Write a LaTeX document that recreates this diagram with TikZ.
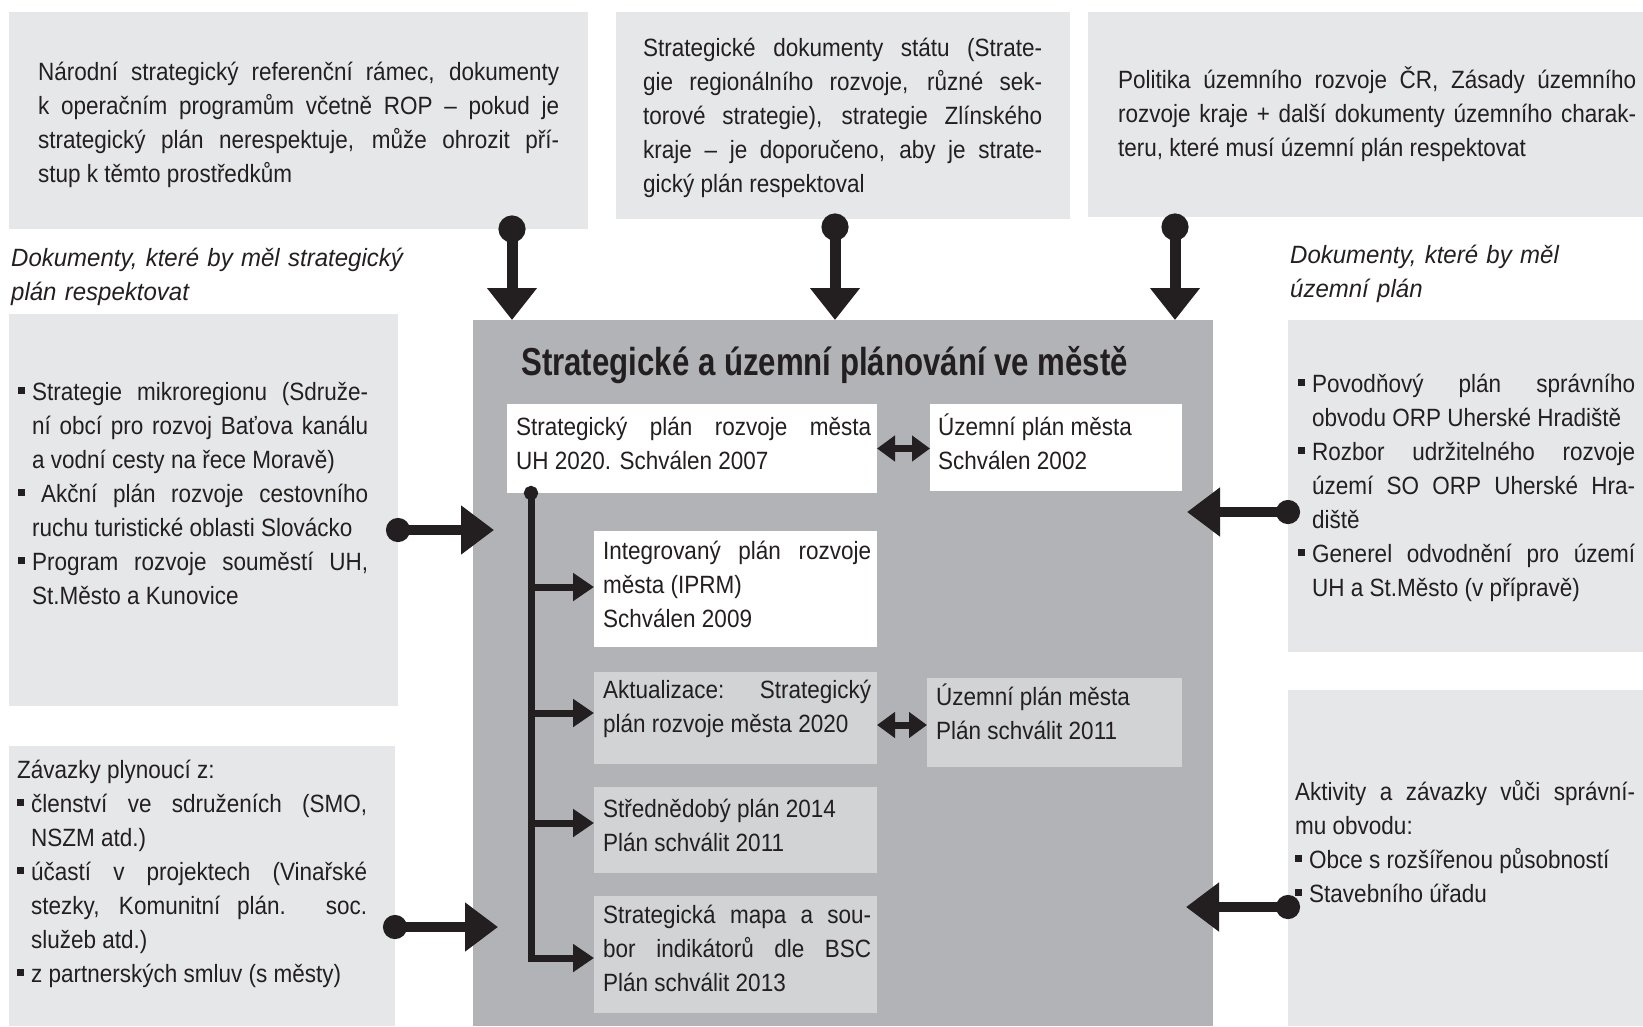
\documentclass[tikz,border=0pt]{standalone}
\usepackage{fontspec}
\setmainfont[FakeStretch=0.9]{Liberation Sans}
\newfontfamily\titlefont[FakeStretch=0.8]{Liberation Sans}
\newfontfamily\notefont[FakeStretch=0.96]{Liberation Sans}
\usetikzlibrary{arrows.meta}
\usetikzlibrary{calc}
\definecolor{ink}{HTML}{231F20}
\definecolor{paleg}{HTML}{E6E7E8}
\definecolor{midg}{HTML}{B1B3B6}
\definecolor{lightg}{HTML}{D1D3D4}
\hyphenpenalty=10000
\newcommand{\panel}[6]{ \node[#1, minimum width={#5-#3}, minimum height={#6-#4}] (#2) at (#3,#4) {};}
\newcommand{\bul}{\hangindent=14pt\hangafter=1\makebox[14pt][l]{\rule[6pt]{7pt}{7pt}}}
\tikzset{
  box/.style={anchor=north west, inner sep=0pt, outer sep=0pt},
  outerbox/.style={box, fill=paleg},
  citybox/.style={box, fill=midg},
  whitebox/.style={box, fill=white},
  greybox/.style={box, fill=lightg},
  txt/.style={anchor=base west, inner sep=0pt, text=ink, align=justify,
    font=\fontsize{25}{34}\selectfont},
  note/.style={anchor=base west, inner sep=0pt, text=ink, align=left, text width=430,
    font=\notefont\itshape\fontsize{25}{34}\selectfont},
  titletxt/.style={anchor=base west, inner sep=0pt, text=ink,
    font=\titlefont\bfseries\fontsize{39}{44}\selectfont},
  bigarr/.style={draw=ink, line width=11pt, {Circle[length=27pt]}-{Triangle[length=32pt, width=48pt]}, shorten <=-13.5pt},
  sidearr/.style={draw=ink, line width=10pt, {Circle[length=24pt]}-{Triangle[length=33pt, width=47pt]}, shorten <=-12pt},
  trunkline/.style={draw=ink, line width=7pt, {Circle[length=14pt]}-{Triangle[length=21pt, width=27pt]}, shorten <=-7pt},
  branch/.style={draw=ink, line width=7pt, -{Triangle[length=21pt, width=27pt]}},
  dblarr/.style={draw=ink, line width=7pt, {Triangle[length=18pt, width=25pt]}-{Triangle[length=18pt, width=25pt]}}
}
\begin{document}
\begin{tikzpicture}[x=1pt, y=-1pt]
        \useasboundingbox (0,0) rectangle (1643,1026);
        % outer panels
        \panel{outerbox}{natl}{9}{12}{588}{229}
        \panel{outerbox}{stat}{616}{12}{1070}{219}
        \panel{outerbox}{terr}{1088}{12}{1643}{217}
        \panel{outerbox}{lmid}{9}{314}{398}{706}
        \panel{outerbox}{lbot}{9}{746}{395}{1026}
        \panel{outerbox}{rmid}{1288}{320}{1643}{652}
        \panel{outerbox}{rbot}{1288}{690}{1643}{1026}
        % city block
        \panel{citybox}{city}{473}{320}{1213}{1026}
        \panel{whitebox}{spl}{507}{404}{877}{493}
        \panel{whitebox}{upl}{930}{404}{1182}{491}
        \panel{whitebox}{ipr}{594}{531}{877}{647}
        \panel{greybox}{akt}{594}{672}{877}{764}
        \panel{greybox}{upln}{927}{678}{1182}{767}
        \panel{greybox}{sdp}{594}{787}{877}{873}
        \panel{greybox}{bsc}{594}{896}{877}{1013}
        % top texts
        \node[txt, text width=521] (natltxt) at (38,80) {Národní strategický referenční rámec, dokumenty\linebreak k operačním programům včetně ROP -- pokud je\linebreak strategický plán nerespektuje, může ohrozit pří-\linebreak stup k těmto prostředkům\par};
        \node[txt, text width=399] (stattxt) at (643,56) {Strategické dokumenty státu (Strate-\linebreak gie regionálního rozvoje, různé sek-\linebreak torové strategie), strategie Zlínského\linebreak kraje -- je doporučeno, aby je strate-\linebreak gický plán respektoval\par};
        \node[txt, text width=518] (terrtxt) at (1118,88) {Politika územního rozvoje ČR, Zásady územního\linebreak rozvoje kraje + další dokumenty územního charak-\linebreak teru, které musí územní plán respektovat\par};
        \node[note] (lnote) at (11,266) {Dokumenty, které by měl strategický\\ plán respektovat};
        \node[note] (rnote) at (1290,263) {Dokumenty, které by měl\\ územní plán};
        % side texts
        \node[txt, text width=350] (lmidtxt) at (18,400) {\bul Strategie mikroregionu (Sdruže-\linebreak ní obcí pro rozvoj Baťova kanálu\linebreak a vodní cesty na řece Moravě)\par
          \bul\hspace{9pt}Akční plán rozvoje cestovního\linebreak ruchu turistické oblasti Slovácko\par
          \bul Program rozvoje souměstí UH,\linebreak St.Město a Kunovice\par};
        \node[txt, text width=350] (lbottxt) at (17,778) {Závazky plynoucí z:\par
          \bul členství ve sdruženích (SMO,\linebreak NSZM atd.)\par
          \bul účastí v projektech (Vinařské\linebreak stezky, Komunitní plán. soc.\linebreak služeb atd.)\par
          \bul z partnerských smluv (s městy)\par};
        \node[txt, text width=337] (rmidtxt) at (1298,392) {\bul Povodňový plán správního\linebreak obvodu ORP Uherské Hradiště\par
          \bul Rozbor udržitelného rozvoje\linebreak území SO ORP Uherské Hra-\linebreak diště\par
          \bul Generel odvodnění pro území\linebreak UH a St.Město (v přípravě)\par};
        \node[txt, text width=340] (rbottxt) at (1295,800) {Aktivity a závazky vůči správní-\linebreak mu obvodu:\par
          \bul Obce s rozšířenou působností\par
          \bul Stavebního úřadu\par};
        % city texts
        \node[titletxt] (title) at (521,375) {Strategické a územní plánování ve městě};
        \node[txt, text width=355] (spltxt) at (516,435) {Strategický plán rozvoje města\linebreak UH 2020. Schválen 2007\par};
        \node[txt, text width=230] (upltxt) at (938,435) {Územní plán města\\ Schválen 2002};
        \node[txt, text width=268] (iprtxt) at (603,559) {Integrovaný plán rozvoje\linebreak města (IPRM)\\ Schválen 2009};
        \node[txt, text width=268] (akttxt) at (603,698) {Aktualizace: Strategický\linebreak plán rozvoje města 2020\par};
        \node[txt, text width=230] (uplntxt) at (936,705) {Územní plán města\\ Plán schválit 2011};
        \node[txt, text width=268] (sdptxt) at (603,817) {Střednědobý plán 2014\\ Plán schválit 2011};
        \node[txt, text width=268] (bsctxt) at (603,923) {Strategická mapa a sou-\linebreak bor indikátorů dle BSC\linebreak Plán schválit 2013\par};
        % feeds from above
        \draw[bigarr] (natl.south -| 512,0) -- (city.north -| 512,0);
        \draw[bigarr] ($(stat.south -| 835,0)+(0,8)$) -- (city.north -| 835,0);
        \draw[bigarr] ($(terr.south -| 1175,0)+(0,10)$) -- (city.north -| 1175,0);
        % feeds from the sides
        \draw[sidearr, shorten >=-21pt] (lmid.east |- 0,530) -- (city.west |- 0,530);
        \draw[sidearr, shorten >=-25pt] (lbot.east |- 0,927) -- (city.west |- 0,927);
        \draw[sidearr, shorten >=-26pt] (rmid.west |- 0,512) -- (city.east |- 0,512);
        \draw[sidearr, shorten >=-27pt] (rbot.west |- 0,907) -- (city.east |- 0,907);
        % inner links
        \coordinate (trunk) at (spl.south -| 531,0);
        \draw[trunkline] (trunk) -- (trunk |- 0,958) -- (bsc.west |- 0,958);
        \draw[branch] (trunk |- 0,587) -- (ipr.west |- 0,587);
        \draw[branch] (trunk |- 0,713) -- (akt.west |- 0,713);
        \draw[branch] (trunk |- 0,823) -- (sdp.west |- 0,823);
        \draw[dblarr] (spl.east) -- (spl.east -| upl.west);
        \draw[dblarr] (akt.east |- 0,725) -- (upln.west |- 0,725);
\end{tikzpicture}
\end{document}
